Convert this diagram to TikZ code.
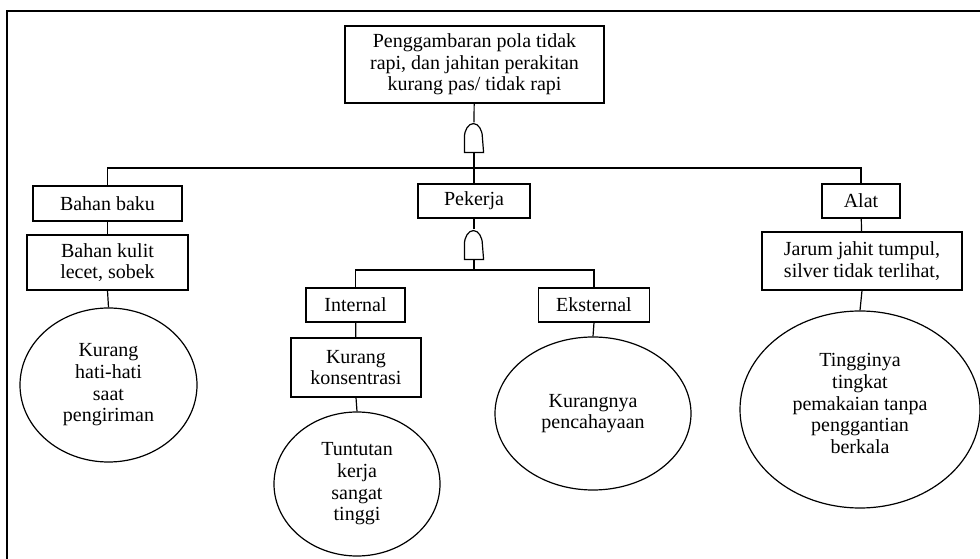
\documentclass[tikz,border=0pt]{standalone}
\usepackage{fontspec}
\setmainfont{Liberation Serif}
\usetikzlibrary{shapes.geometric}
\begin{document}
\begin{tikzpicture}[x=1pt,y=1pt,
  line width=1.2pt,
  every node/.style={font=\fontsize{20}{21.7}\selectfont, text=black, align=center},
  event/.style={draw, rectangle, inner sep=0pt},
  cause/.style={draw, ellipse, inner sep=0pt},
  gatebox/.style={rectangle, inner sep=0pt, minimum width=18pt, minimum height=29pt},
  link/.style={line width=1.2pt}
]
\useasboundingbox (0,0) rectangle (980,559);
% outer frame (top and left edges)
\draw[line width=1.8pt] (7,0) -- (7,548) -- (980,548);

% top event
\node[event, minimum width=259pt, minimum height=77pt] (top) at (474.5,494.5)
  {Penggambaran pola tidak\\rapi, dan jahitan perakitan\\kurang pas/ tidak rapi};

% AND gate below the top event
\node[gatebox] (g1) at (474,421.5) {};
\draw (g1.south west) -- ++(0,15) arc[start angle=180, end angle=0, x radius=9pt, y radius=14pt] -- (g1.south east) -- cycle;
\coordinate (bar1) at (474,391);

% first level
\node[event, minimum width=149pt, minimum height=35pt] (bb) at (107.5,355.5) {Bahan baku};
\node[event, minimum width=112pt, minimum height=34pt] (pek) at (474,358) {Pekerja};
\node[event, minimum width=78pt, minimum height=34pt] (alat) at (861,358) {Alat};

% Bahan baku branch
\node[event, minimum width=161pt, minimum height=55pt] (kulit) at (107.5,296.5) {Bahan kulit\\lecet, sobek};
\node[cause, minimum width=177pt, minimum height=154pt] (hati) at (108.5,174) {Kurang\\hati-hati\\saat\\pengiriman};

% Pekerja branch
\node[gatebox] (g2) at (474,314.5) {};
\draw (g2.south west) -- ++(0,15) arc[start angle=180, end angle=0, x radius=9pt, y radius=14pt] -- (g2.south east) -- cycle;
\coordinate (bar2) at (474,289);
\node[event, minimum width=99pt, minimum height=34pt] (int) at (355.5,254) {Internal};
\node[event, minimum width=111pt, minimum height=34pt] (eks) at (594,254) {Eksternal};
\node[event, minimum width=130pt, minimum height=59pt] (kons) at (356,191.5) {Kurang\\konsentrasi};
\node[cause, minimum width=166pt, minimum height=144pt] (tunt) at (357,75) {Tuntutan\\kerja\\sangat\\tinggi};
\node[cause, minimum width=196pt, minimum height=153pt] (cahaya) at (593,145.5) {Kurangnya\\pencahayaan};

% Alat branch
\node[event, minimum width=200pt, minimum height=58pt] (jarum) at (862,298) {Jarum jahit tumpul,\\silver tidak terlihat,};
\node[cause, minimum width=240pt, minimum height=197pt] (pakai) at (860,149.5) {Tingginya\\tingkat\\pemakaian tanpa\\penggantian\\berkala\\[-10pt]};

% connectors
\draw[link] (top) -- (g1.north);
\draw[link] (g1.south) -- (pek.north);
\draw[link] (bb.north) |- (bar1) -| (alat.north);
\draw[link] (bb) -- (kulit);
\draw[link] (kulit.south) -- (hati.north);
\draw[link] (pek) -- (g2.north);
\draw[link] (g2.south) -- (bar2);
\draw[link] (int.north) |- (bar2) -| (eks.north);
\draw[link] (int) -- (kons);
\draw[link] (kons.south) -- (tunt.north);
\draw[link] (eks.south) -- (cahaya.north);
\draw[link] (alat) -- (jarum);
\draw[link] (jarum.south) -- (pakai.north);
\end{tikzpicture}
\end{document}
